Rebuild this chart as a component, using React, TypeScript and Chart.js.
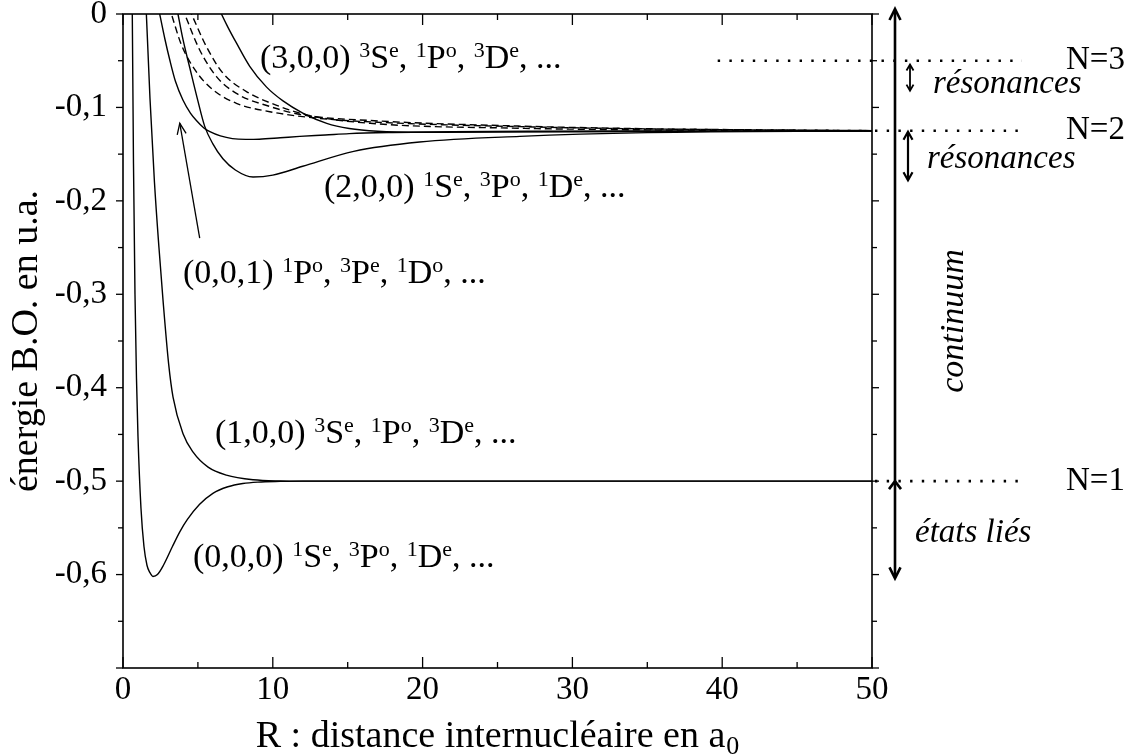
import React, { useEffect, useRef } from "react";
import { Chart, registerables } from "chart.js";

Chart.register(...registerables);

// ---- Data (R in a0, energy in a.u.) ----
// (0,0,0) 1Se, 3Po, 1De
const r000 = [0.55, 0.62, 0.7, 0.8, 0.9, 1.0, 1.2, 1.4, 1.6, 1.8, 2.0, 2.3, 2.7, 3.3, 3.8, 4.3, 5.1, 6.0, 7.0, 8.0, 9.0, 10.5, 12, 50];
const e000 = [0.1, 0, -0.16, -0.3, -0.39, -0.452, -0.529, -0.57, -0.59, -0.598, -0.602, -0.6, -0.59, -0.57, -0.554, -0.541, -0.525, -0.513, -0.506, -0.5025, -0.501, -0.5003, -0.5, -0.5];
// (1,0,0) 3Se, 1Po, 3De
const r100 = [1.45, 1.56, 1.8, 2.1, 2.4, 2.67, 3.05, 3.34, 4.0, 4.68, 5.68, 6.9, 8.7, 10.5, 12, 50];
const e100 = [0.045, 0, -0.09, -0.18, -0.25, -0.306, -0.375, -0.41, -0.449, -0.469, -0.485, -0.4935, -0.4985, -0.4998, -0.5, -0.5];
// (0,0,1) 1Po, 3Pe, 1Do
const r001 = [2.3, 2.45, 2.8, 3.12, 3.5, 4.0, 4.5, 4.9, 5.4, 5.8, 6.5, 7.3, 8.2, 9.1, 10.5, 11.8, 13.5, 15.1, 18, 22, 28, 36, 50];
const e001 = [0.012, 0, -0.027, -0.049, -0.072, -0.092, -0.106, -0.114, -0.122, -0.126, -0.1305, -0.1334, -0.1342, -0.134, -0.1325, -0.131, -0.1295, -0.128, -0.1268, -0.126, -0.1255, -0.1252, -0.125];
// (2,0,0) 1Se, 3Po, 1De
const r200 = [3.55, 3.67, 4.0, 4.45, 5.0, 5.45, 6.0, 6.67, 7.5, 8.68, 10, 12, 15.4, 19.8, 26.5, 35, 50];
const e200 = [0.01, 0, -0.027, -0.057, -0.093, -0.12, -0.139, -0.155, -0.167, -0.1745, -0.1725, -0.163, -0.147, -0.137, -0.131, -0.127, -0.1252];
// (3,0,0) 3Se, 1Po, 3De
const r300 = [6.4, 6.57, 7.0, 7.57, 8.46, 9.57, 10.68, 12.0, 13.6, 15.1, 17, 20, 25, 35, 50];
const e300 = [0.006, 0, -0.014, -0.031, -0.056, -0.078, -0.093, -0.106, -0.117, -0.1225, -0.1255, -0.1265, -0.1264, -0.1257, -0.1252];
// dashed curves
const rDa = [3.05, 3.23, 3.9, 4.9, 6.0, 7.57, 9.8, 13.1, 17.6, 26.5, 35, 50];
const eDa = [0.009, 0, -0.033, -0.062, -0.081, -0.0956, -0.1046, -0.1117, -0.1163, -0.1206, -0.123, -0.1248];
const rDb = [3.95, 4.12, 5.12, 6.24, 7.57, 9.8, 12.0, 16.5, 26.5, 35, 50];
const eDb = [0.007, 0, -0.0385, -0.067, -0.085, -0.099, -0.108, -0.114, -0.12, -0.1228, -0.1248];
const rDc = [4.4, 4.57, 5.57, 6.68, 8.24, 10.47, 12.25, 16.5, 26.5, 35, 50];
const eDc = [0.006, 0, -0.035, -0.0635, -0.083, -0.099, -0.108, -0.117, -0.1223, -0.124, -0.125];

// thresholds N=1,2,3 and where their dotted lines start
const levelNames = ["N=1", "N=2", "N=3"];
const levelValues = [-0.5, -0.125, -0.05];
const levelStartR = [50, 50, 39.7];

// ticks
const xTickLabels = [0, 10, 20, 30, 40, 50];
const yTickLabels = [0, -0.1, -0.2, -0.3, -0.4, -0.5, -0.6];
const xTickMarks = [0, 5, 10, 15, 20, 25, 30, 35, 40, 45, 50];
const yTickMarks = [0, -0.05, -0.1, -0.15, -0.2, -0.25, -0.3, -0.35, -0.4, -0.45, -0.5, -0.55, -0.6, -0.65, -0.7];

const curveLabels = [
  "(3,0,0) ^3S^e, ^1P^o, ^3D^e, ...",
  "(2,0,0) ^1S^e, ^3P^o, ^1D^e, ...",
  "(0,0,1) ^1P^o, ^3P^e, ^1D^o, ...",
  "(1,0,0) ^3S^e, ^1P^o, ^3D^e, ...",
  "(0,0,0) ^1S^e, ^3P^o, ^1D^e, ...",
];
const curveLabelPos = [
  [260, 68],
  [324, 197],
  [183, 283],
  [215, 443],
  [193, 567],
];

const SERIF = '"Liberation Serif", "Times New Roman", serif';

function mk(r: number[], e: number[], dashed: boolean) {
  return {
    data: r.map((v, i) => ({ x: v, y: e[i] })),
    borderColor: "#000",
    borderWidth: 1.4,
    borderDash: dashed ? [7, 4] : [],
    pointRadius: 0,
    fill: false,
    cubicInterpolationMode: "monotone",
  };
}

function drawRich(ctx: CanvasRenderingContext2D, text: string, x: number, y: number, size: number) {
  const parts: { t: string; sup: boolean }[] = [];
  let buf = "";
  for (let i = 0; i < text.length; i++) {
    if (text[i] === "^") {
      if (buf) parts.push({ t: buf, sup: false });
      buf = "";
      parts.push({ t: text[i + 1], sup: true });
      i++;
    } else buf += text[i];
  }
  if (buf) parts.push({ t: buf, sup: false });
  let cx = x;
  ctx.textAlign = "left";
  ctx.textBaseline = "alphabetic";
  for (const p of parts) {
    if (p.sup) {
      ctx.font = `${Math.round(size * 0.65)}px ${SERIF}`;
      ctx.fillText(p.t, cx, y - size * 0.32);
    } else {
      ctx.font = `${size}px ${SERIF}`;
      ctx.fillText(p.t, cx, y);
    }
    cx += ctx.measureText(p.t).width;
  }
}

function line(ctx: CanvasRenderingContext2D, x1: number, y1: number, x2: number, y2: number) {
  ctx.beginPath();
  ctx.moveTo(x1, y1);
  ctx.lineTo(x2, y2);
  ctx.stroke();
}

function head(ctx: CanvasRenderingContext2D, tx: number, ty: number, ux: number, uy: number, len: number, half: number) {
  const bx = tx - ux * len;
  const by = ty - uy * len;
  const px = -uy;
  const py = ux;
  ctx.beginPath();
  ctx.moveTo(bx + px * half, by + py * half);
  ctx.lineTo(tx, ty);
  ctx.lineTo(bx - px * half, by - py * half);
  ctx.stroke();
}

const annotPlugin = {
  id: "annot",
  afterDatasetsDraw(chart: any) {
    const ctx: CanvasRenderingContext2D = chart.ctx;
    const { left, right, top, bottom } = chart.chartArea;
    const xs = chart.scales.x;
    const ys = chart.scales.y;
    ctx.save();
    ctx.strokeStyle = "#000";
    ctx.fillStyle = "#000";
    ctx.setLineDash([]);

    // frame
    ctx.lineWidth = 1.6;
    ctx.strokeRect(left, top, right - left, bottom - top);

    // tick marks
    ctx.lineWidth = 1.3;
    for (const v of xTickMarks) {
      const px = xs.getPixelForValue(v);
      const len = v % 10 === 0 ? 11 : 6;
      line(ctx, px, bottom, px, bottom - len);
      line(ctx, px, top, px, top + len);
    }
    for (const v of yTickMarks) {
      const py = ys.getPixelForValue(v);
      const major = Math.abs(Math.round(v * 10) - v * 10) < 1e-6;
      const len = major ? 7 : 5;
      line(ctx, left, py, left - len, py);
      line(ctx, right, py, right + len, py);
    }

    // dotted threshold lines and N labels
    ctx.lineWidth = 2.6;
    ctx.setLineDash([2.4, 9.3]);
    levelValues.forEach((v, i) => {
      const py = ys.getPixelForValue(v);
      const sx = levelStartR[i] >= 50 ? right + 3 : xs.getPixelForValue(levelStartR[i]);
      line(ctx, sx, py, 1022, py);
    });
    ctx.setLineDash([]);
    ctx.font = `33px ${SERIF}`;
    ctx.textAlign = "left";
    ctx.textBaseline = "middle";
    levelValues.forEach((v, i) => {
      ctx.fillText(levelNames[i], 1066, ys.getPixelForValue(v));
    });

    // big vertical arrow (continuum / bound states)
    const ax = 895;
    const yTopTip = top - 5;
    const yN1 = ys.getPixelForValue(-0.5);
    const yBot = ys.getPixelForValue(-0.604);
    ctx.lineWidth = 2.6;
    line(ctx, ax, yTopTip + 1, ax, yBot - 1);
    head(ctx, ax, yTopTip, 0, -1, 11, 5.5);
    head(ctx, ax, yN1, 0, -1, 8, 6);
    head(ctx, ax, yBot, 0, 1, 11, 5.5);

    // small resonance arrows
    ctx.lineWidth = 1.8;
    const a1t = ys.getPixelForValue(-0.054);
    const a1b = ys.getPixelForValue(-0.082);
    line(ctx, 910, a1t, 910, a1b);
    head(ctx, 910, a1t, 0, -1, 6, 3.5);
    head(ctx, 910, a1b, 0, 1, 6, 3.5);
    ctx.lineWidth = 2.2;
    const a2t = ys.getPixelForValue(-0.126);
    const a2b = ys.getPixelForValue(-0.178);
    line(ctx, 908, a2t, 908, a2b);
    head(ctx, 908, a2t, 0, -1, 8, 4.5);
    head(ctx, 908, a2b, 0, 1, 8, 4.5);

    // italic annotations
    ctx.font = `italic 33px ${SERIF}`;
    ctx.textAlign = "left";
    ctx.textBaseline = "alphabetic";
    ctx.fillText("résonances", 933, 93);
    ctx.fillText("résonances", 927, 168);
    ctx.fillText("états liés", 915, 542);
    ctx.save();
    ctx.translate(963, 321);
    ctx.rotate(-Math.PI / 2);
    ctx.textAlign = "center";
    ctx.font = `italic 34px ${SERIF}`;
    ctx.fillText("continuum", 0, 0);
    ctx.restore();

    // curve labels
    curveLabels.forEach((t, i) => drawRich(ctx, t, curveLabelPos[i][0], curveLabelPos[i][1], 34));

    // arrow to the (0,0,1) curve
    ctx.lineWidth = 1.3;
    const fx = xs.getPixelForValue(5.12);
    const fy = ys.getPixelForValue(-0.24);
    const tx = xs.getPixelForValue(3.79);
    const ty = ys.getPixelForValue(-0.117);
    line(ctx, fx, fy, tx, ty);
    const d = Math.hypot(tx - fx, ty - fy);
    head(ctx, tx, ty, (tx - fx) / d, (ty - fy) / d, 11, 4.5);

    // axis titles
    ctx.textBaseline = "alphabetic";
    ctx.font = `38px ${SERIF}`;
    const main = "R : distance internucléaire en a";
    const w1 = ctx.measureText(main).width;
    ctx.font = `26px ${SERIF}`;
    const w2 = ctx.measureText("0").width;
    const xStart = 497 - (w1 + w2) / 2;
    ctx.textAlign = "left";
    ctx.font = `38px ${SERIF}`;
    ctx.fillText(main, xStart, 747);
    ctx.font = `26px ${SERIF}`;
    ctx.fillText("0", xStart + w1 + 1, 754);

    ctx.save();
    ctx.translate(37, 341);
    ctx.rotate(-Math.PI / 2);
    ctx.textAlign = "center";
    ctx.font = `38px ${SERIF}`;
    ctx.fillText("énergie B.O. en u.a.", 0, 0);
    ctx.restore();

    ctx.restore();
  },
};

function fmtY(v: number) {
  if (Math.abs(v) < 1e-9) return "0";
  return v.toFixed(1).replace(".", ",");
}

export default function App() {
  const ref = useRef<HTMLCanvasElement | null>(null);
  useEffect(() => {
    document.body.style.margin = "0";
    const chart = new Chart(ref.current as HTMLCanvasElement, {
      type: "line",
      data: {
        datasets: [
          mk(r000, e000, false),
          mk(r100, e100, false),
          mk(r001, e001, false),
          mk(r200, e200, false),
          mk(r300, e300, false),
          mk(rDa, eDa, true),
          mk(rDb, eDb, true),
          mk(rDc, eDc, true),
        ] as any,
      },
      options: {
        animation: false,
        responsive: false,
        devicePixelRatio: 1,
        layout: { padding: { top: 14, right: 266, left: 0, bottom: 0 } },
        plugins: { legend: { display: false }, tooltip: { enabled: false } },
        scales: {
          x: {
            type: "linear",
            min: 0,
            max: 50,
            grid: { display: false, drawTicks: true, tickLength: 3 },
            border: { display: false },
            afterBuildTicks: (s: any) => {
              s.ticks = xTickLabels.map((v) => ({ value: v }));
            },
            afterFit: (s: any) => {
              s.height = 86;
            },
            ticks: {
              autoSkip: false,
              maxRotation: 0,
              padding: 0,
              color: "#000",
              font: { family: SERIF, size: 33 },
              callback: (v: any) => String(v),
            },
          },
          y: {
            type: "linear",
            min: -0.7,
            max: 0,
            grid: { display: false, drawTicks: true, tickLength: 16 },
            border: { display: false },
            afterBuildTicks: (s: any) => {
              s.ticks = yTickLabels.map((v) => ({ value: v }));
            },
            afterFit: (s: any) => {
              s.width = 123;
            },
            ticks: {
              autoSkip: false,
              padding: 0,
              color: "#000",
              font: { family: SERIF, size: 33, lineHeight: 0.8 },
              callback: (v: any) => fmtY(Number(v)),
            },
          },
        },
      } as any,
      plugins: [annotPlugin],
    });
    return () => chart.destroy();
  }, []);
  return (
    <div style={{ position: "absolute", left: 0, top: 0, width: 1138, height: 754, background: "#fff" }}>
      <canvas ref={ref} width={1138} height={754} style={{ display: "block", width: 1138, height: 754 }} />
    </div>
  );
}
